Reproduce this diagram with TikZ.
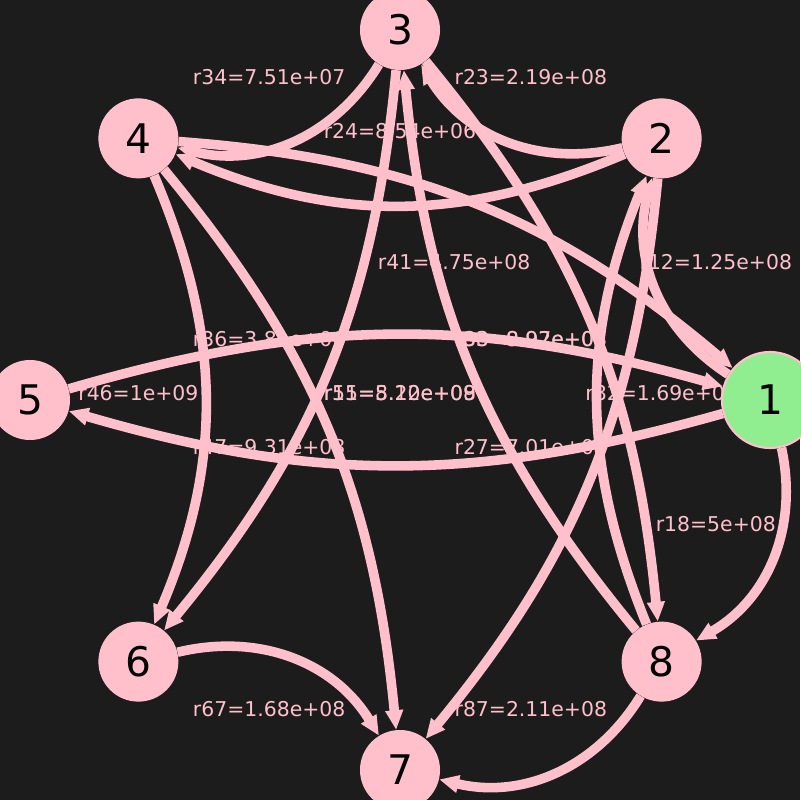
\documentclass[tikz,border=0pt]{standalone}
\usepackage{fontspec}
\setmainfont{DejaVu Sans}
\usetikzlibrary{arrows.meta,calc}
\definecolor{bgc}{HTML}{1C1C1C}
\definecolor{pk}{HTML}{FFC0CB}
\definecolor{lg}{HTML}{90EE90}
\pgfdeclarelayer{back}
\pgfdeclarelayer{lbl}
\pgfdeclarelayer{edg}
\pgfsetlayers{back,lbl,edg,main}
\begin{document}
\begin{tikzpicture}[x=0.025cm,y=0.025cm,
  vert/.style={circle,fill=pk,minimum size=2cm,inner sep=0pt,font=\fontsize{29}{29}\selectfont,text=black},
  lab/.style={text=pk,font=\fontsize{14.5}{15}\selectfont,inner sep=0pt},
  edge/.style={draw=pk,line width=6.8pt,-{Triangle[length=14pt,width=12pt]}},
  shortbend/.style={bend left=36},
]
\begin{pgfonlayer}{back}
\fill[bgc] (-400,-400) rectangle (400,400);
\end{pgfonlayer}
\useasboundingbox (-400,-400) rectangle (400,400);
% nodes
\node[vert,fill=lg,draw=pk,line width=1.5pt,minimum size=2.4cm] (n1) at (0:370) {1};
\node[vert] (n2) at (45:370) {2};
\node[vert] (n3) at (90:370) {3};
\node[vert] (n4) at (135:370) {4};
\node[vert] (n5) at (180:370) {5};
\node[vert] (n6) at (225:370) {6};
\node[vert] (n7) at (270:370) {7};
\node[vert] (n8) at (315:370) {8};
% labels
\begin{pgfonlayer}{lbl}
\node[lab] (l34) at ($(n3)!0.5!(n4)+(0,7)$) {r34=7.51e+07};
\node[lab] (l23) at ($(n2)!0.5!(n3)+(0,7)$) {r23=2.19e+08};
\node[lab] (l24) at ($(n2)!0.5!(n4)+(0,7)$) {r24=8.54e+06};
\node[lab] (l41) at ($(n4)!0.5!(n1)+(0,7)$) {r41=4.75e+08};
\node[lab] (l12) at ($(n1)!0.5!(n2)+(0,7)$) {r12=1.25e+08};
\node[lab] (l36) at ($(n3)!0.5!(n6)+(0,7)$) {r36=3.81e+06};
\node[lab] (l38) at ($(n3)!0.5!(n8)+(0,7)$) {r38=8.97e+07};
\node[lab] (l83) at ($(n3)!0.5!(n8)+(0,7)$) {r83=9.92e+08};
\node[lab] (l46) at ($(n4)!0.5!(n6)+(0,7)$) {r46=1e+09};
\node[lab] (l15) at ($(n1)!0.5!(n5)+(0,7)$) {r15=8.20e+08};
\node[lab] (l51) at ($(n1)!0.5!(n5)+(0,7)$) {r51=5.12e+09};
\node[lab] (l47) at ($(n4)!0.5!(n7)+(0,7)$) {r47=9.31e+08};
\node[lab] (l27) at ($(n2)!0.5!(n7)+(0,7)$) {r27=7.01e+08};
\node[lab] (l82) at ($(n8)!0.5!(n2)+(0,7)$) {r82=1.69e+08};
\node[lab] (l18) at ($(n1)!0.5!(n8)+(0,7)$) {r18=5e+08};
\node[lab] (l67) at ($(n6)!0.5!(n7)+(0,7)$) {r67=1.68e+08};
\node[lab] (l87) at ($(n8)!0.5!(n7)+(0,7)$) {r87=2.11e+08};
\end{pgfonlayer}
% edges
\begin{pgfonlayer}{edg}
\draw[edge] (n3) to[shortbend] (n4);
\draw[edge] (n2) to[shortbend] (n3);
\draw[edge] (n2) to[bend left=23] (n4);
\draw[edge] (n4) to[bend left=18] (n1);
\draw[edge] (n1) to[shortbend] (n2);
\draw[edge] (n8) to[bend left=22] (n2);
\draw[edge] (n3) to[bend left=17] (n6);
\draw[edge] (n3) to[bend left=17] (n8);
\draw[edge] (n8) to[bend left=17] (n3);
\draw[edge] (n5) to[bend left=16] (n1);
\draw[edge] (n1) to[bend left=16] (n5);
\draw[edge] (n4) to[bend left=23] (n6);
\draw[edge] (n4) to[bend left=17] (n7);
\draw[edge] (n2) to[bend left=17] (n7);
\draw[edge] (n1) to[shortbend] (n8);
\draw[edge] (n6) to[shortbend] (n7);
\draw[edge] (n8) to[shortbend] (n7);
\end{pgfonlayer}
\end{tikzpicture}
\end{document}
